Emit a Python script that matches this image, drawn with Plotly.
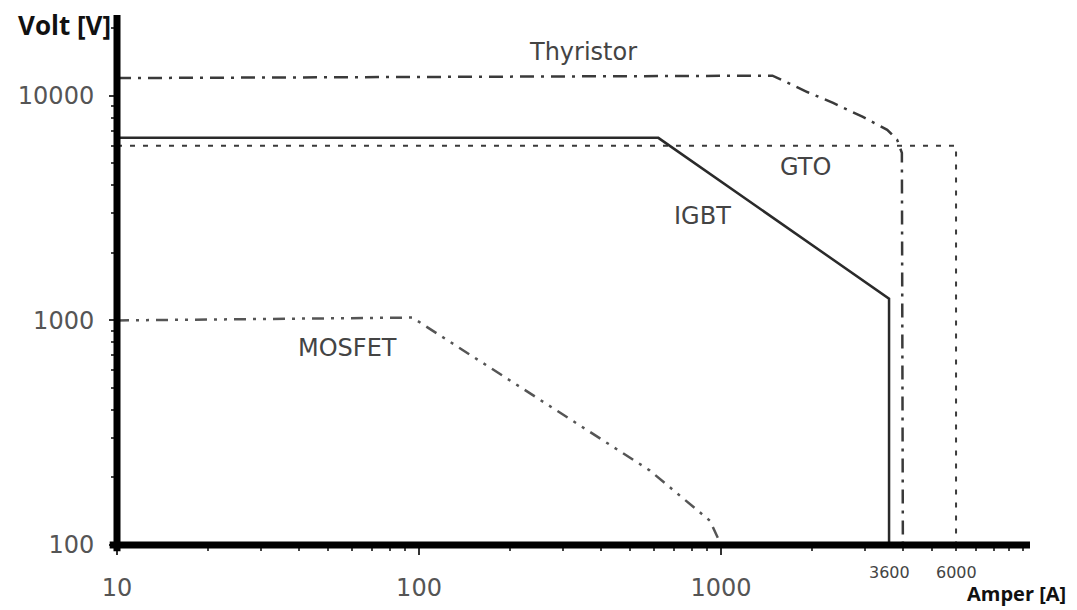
import math
import plotly.graph_objects as go

# ---- data ----
thyristor_x = [10, 1480, 1930, 2350, 2950, 3550, 3830, 3970, 4000]
thyristor_y = [12000, 12300, 10400, 9300, 8060, 7060, 6370, 5570, 100]

gto_x = [10, 6000, 6000]
gto_y = [6000, 6000, 100]

igbt_x = [10, 620, 3600, 3600]
igbt_y = [6500, 6500, 1250, 100]

mosfet_x = [10, 95, 580, 920, 1000]
mosfet_y = [1000, 1030, 215, 128, 100]

x_tick_vals = [10, 100, 1000]
x_tick_text = ["10", "100", "1000"]
x_extra_vals = [3600, 6000]
x_extra_text = ["3600", "6000"]
y_tick_vals = [100, 1000, 10000]
y_tick_text = ["100", "1000", "10000"]

labels = ["Thyristor", "GTO", "IGBT", "MOSFET"]
label_x = [349, 1897, 871, 58]
label_y = [15700, 4830, 2920, 750]

line_color = "#3a3a3a"

fig = go.Figure()
fig.add_trace(go.Scatter(x=thyristor_x, y=thyristor_y, mode="lines",
                         line=dict(color=line_color, width=2.5, dash="14px,7px,3px,7px")))
fig.add_trace(go.Scatter(x=gto_x, y=gto_y, mode="lines",
                         line=dict(color=line_color, width=2, dash="5px,8px")))
fig.add_trace(go.Scatter(x=igbt_x, y=igbt_y, mode="lines",
                         line=dict(color="#2a2a2a", width=2.5)))
fig.add_trace(go.Scatter(x=mosfet_x, y=mosfet_y, mode="lines",
                         line=dict(color="#555555", width=2.5, dash="12px,7px,3px,7px,3px,7px")))

# annotations on log axes take log10 coordinates
for t, lx, ly in zip(labels, label_x, label_y):
    fig.add_annotation(x=math.log10(lx), y=math.log10(ly), text=t, showarrow=False,
                       xref="x", yref="y",
                       font=dict(family="DejaVu Sans", size=24, color="#444444"))

for v, t in zip(x_extra_vals, x_extra_text):
    fig.add_annotation(x=math.log10(v), y=0, xref="x", yref="paper", yanchor="top",
                       yshift=-16, text=t, showarrow=False,
                       font=dict(family="DejaVu Sans", size=16, color="#444444"))

fig.add_annotation(x=0, y=1, xref="paper", yref="paper", xanchor="right", yanchor="middle",
                   xshift=-4, yshift=-10, text="<b>Volt [V]</b>", showarrow=False,
                   font=dict(family="Open Sans", size=26, color="#111111"))
fig.add_annotation(x=1, y=0, xref="paper", yref="paper", xanchor="right", yanchor="top",
                   xshift=38, yshift=-33, text="<b>Amper [A]</b>", showarrow=False,
                   font=dict(family="Open Sans", size=20, color="#111111"))

# thick axis lines
fig.add_shape(type="line", xref="paper", yref="paper", x0=-0.008, x1=1, y0=0, y1=0,
              line=dict(color="black", width=7))
fig.add_shape(type="line", xref="paper", yref="paper", x0=0, x1=0, y0=-0.012, y1=1,
              line=dict(color="black", width=7))

fig.update_xaxes(type="log", range=[1, 4.023], showgrid=False, zeroline=False, showline=False,
                 automargin=False,
                 tickvals=x_tick_vals, ticktext=x_tick_text, ticks="outside", ticklen=9,
                 tickwidth=2, tickcolor="#333333", ticklabelstandoff=12,
                 tickfont=dict(family="DejaVu Sans", size=24, color="#555555"),
                 minor=dict(ticks="outside", ticklen=5, tickwidth=2, tickcolor="#444444",
                            dtick="D1", showgrid=False))
fig.update_yaxes(type="log", range=[2, 4.36], showgrid=False, zeroline=False, showline=False,
                 automargin=False,
                 tickvals=y_tick_vals, ticktext=y_tick_text, ticks="outside", ticklen=7,
                 tickwidth=2, tickcolor="#333333", ticklabelstandoff=10,
                 tickfont=dict(family="DejaVu Sans", size=24, color="#555555"),
                 minor=dict(ticks="outside", ticklen=5, tickwidth=2, tickcolor="#444444",
                            dtick="D1", showgrid=False))

fig.update_layout(width=1077, height=610, showlegend=False,
                  paper_bgcolor="white", plot_bgcolor="white",
                  margin=dict(l=117, r=47, t=15, b=65))

fig.write_html("out.html")
